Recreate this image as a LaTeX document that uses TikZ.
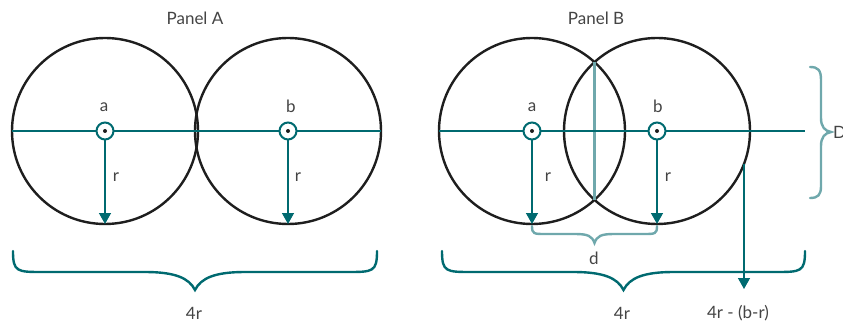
\documentclass[tikz,border=0pt]{standalone}
\usepackage{fontspec}
\setmainfont{Lato}
\usetikzlibrary{arrows.meta}
\definecolor{teal1}{HTML}{006A70}
\definecolor{teal2}{HTML}{6FA8AC}
\definecolor{ink}{HTML}{1E1E1E}
\definecolor{txt}{HTML}{444444}
\tikzset{
  circ/.style={draw=ink, line width=2.4pt},
  axis/.style={draw=teal1, line width=2pt},
  ctr/.style={circle, draw=teal1, fill=white, line width=2pt, minimum size=17pt, inner sep=0pt},
  dotc/.style={circle, fill=ink, minimum size=4pt, inner sep=0pt},
  rarrow/.style={draw=teal1, line width=1.4pt, -{Triangle[length=11pt,width=12pt]}},
  lbl/.style={text=txt, font=\fontsize{17pt}{19pt}\selectfont, inner sep=1pt},
  bigbr/.style={draw=teal1, line width=2.4pt, line cap=round},
  smbr/.style={draw=teal2, line width=2.4pt, line cap=round},
  chord/.style={draw=teal2, line width=2.2pt},
}
\newcommand{\hbrace}[6]{% x1, x2, ytop, yflat, ytip, style
  \pgfmathsetmacro{\xm}{(#1+#2)/2}
  \draw[#6] (#1,#3) .. controls (#1,#4) and (#1+4,#4) .. (#1+30,#4)
    -- (\xm-50,#4) .. controls (\xm-20,#4) and (\xm-6,#4+6) .. (\xm,#5)
    .. controls (\xm+6,#4+6) and (\xm+20,#4) .. (\xm+50,#4)
    -- (#2-30,#4) .. controls (#2-4,#4) and (#2,#4) .. (#2,#3);
}
\begin{document}
\begin{tikzpicture}[x=1pt,y=-1pt]
\useasboundingbox (0,0) rectangle (843,326);
% ---------------- Panel A
\node[lbl] (tA) at (195,18) {Panel A};
\draw[circ] (105,131) circle (93);
\draw[circ] (288,131) circle (93);
\coordinate (la) at (12,131);
\coordinate (ra) at (381,131);
\draw[axis] (la) -- (ra);
\node[ctr] (ca) at (105,131) {};
\node[dotc] at (ca) {};
\node[ctr] (cb) at (288,131) {};
\node[dotc] at (cb) {};
\node[lbl] (na) at (104,107) {a};
\node[lbl] (nb) at (291,106) {b};
\coordinate (ea) at (105,224);
\coordinate (eb) at (288,224);
\draw[rarrow] (ca) -- (ea);
\draw[rarrow] (cb) -- (eb);
\node[lbl] (ra1) at (116,177) {r};
\node[lbl] (rb1) at (298,177) {r};
\hbrace{13}{377}{251}{272}{290}{bigbr}
\node[lbl] (fA) at (194,313) {4r};
% ---------------- Panel B
\node[lbl] (tB) at (596,18) {Panel B};
\draw[circ] (532,131) circle (93);
\draw[circ] (657,131) circle (93);
\coordinate (top) at (594.5,62);
\coordinate (bot) at (594.5,200);
\draw[chord] (top) -- (bot);
\coordinate (lb) at (439,131);
\coordinate (rb) at (805,131);
\draw[axis] (lb) -- (rb);
\node[ctr] (cA) at (532,131) {};
\node[dotc] at (cA) {};
\node[ctr] (cB) at (657,131) {};
\node[dotc] at (cB) {};
\node[lbl] (nA) at (532,107) {a};
\node[lbl] (nB) at (658,106) {b};
\coordinate (eA) at (532,224);
\coordinate (eB) at (657,224);
\draw[rarrow] (cA) -- (eA);
\draw[rarrow] (cB) -- (eB);
\node[lbl] (rA) at (548,177) {r};
\node[lbl] (rB) at (668,177) {r};
% small brace d
\draw[smbr] (532,226) .. controls (532,234) and (534,234) .. (545,234)
  -- (575,234) .. controls (588,234) and (592,236) .. (594.5,243)
  .. controls (597,236) and (601,234) .. (614,234)
  -- (644,234) .. controls (655,234) and (657,234) .. (657,226);
\node[lbl] (nd) at (594,258) {d};
% big brace B
\hbrace{442}{805}{251}{272}{290}{bigbr}
\node[lbl] (fB) at (622,313) {4r};
% arrow 4r-(b-r)
\coordinate (pc) at (744,164);
\coordinate (pe) at (744,289);
\draw[rarrow] (pc) -- (pe);
\node[lbl] (fC) at (738,313) {4r - (b-r)};
% D brace
\draw[smbr] (810,67) .. controls (818,67) and (821,70) .. (821,80)
  -- (821,118) .. controls (821,127) and (825,131) .. (831,132)
  .. controls (825,133) and (821,137) .. (821,146)
  -- (821,186) .. controls (821,195) and (818,198) .. (810,198);
\node[lbl, anchor=west, inner sep=0pt] (nD) at (833,132) {D};
\end{tikzpicture}
\end{document}
